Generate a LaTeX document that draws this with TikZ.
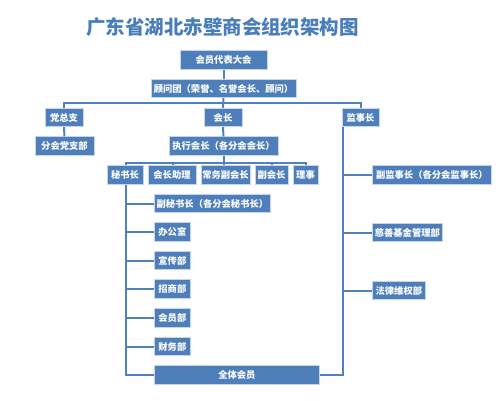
\documentclass[tikz,border=0pt]{standalone}
\usepackage{fontspec}
\newfontfamily\cjk{Noto Sans CJK SC}
\definecolor{boxblue}{HTML}{4F7FBB}
\definecolor{boxedge}{HTML}{C5D6EC}
\definecolor{lineblue}{HTML}{4F81BD}
\definecolor{titleblue}{HTML}{4A7EBB}
\tikzset{
  orgbox/.style={fill=boxblue, draw=boxedge, line width=0.7pt, text=white,
    font=\cjk\bfseries\fontsize{9.3}{10}\selectfont, inner sep=0pt,
    minimum height=18.5pt},
  link/.style={draw=lineblue, line width=2pt}
}
\begin{document}
\begin{tikzpicture}[x=1pt,y=-1pt]
\useasboundingbox (0,0) rectangle (501,400);
\node[font=\cjk\bfseries\fontsize{19.5}{22}\selectfont, text=titleblue] (title) at (222.5,27) {广东省湖北赤壁商会组织架构图};

\node[orgbox, minimum width=87pt] (dbdh) at (223.5,60) {会员代表大会};
\node[orgbox, minimum width=145pt] (gwt) at (223.5,88.5) {顾问团（荣誉、名誉会长、顾问）};
\node[orgbox, minimum width=38pt] (dzz) at (64,117.5) {党总支};
\node[orgbox, minimum width=38pt] (hz) at (223,117.5) {会长};
\node[orgbox, minimum width=37pt] (jsz) at (360.5,117.5) {监事长};
\node[orgbox, minimum width=59pt] (fdzb) at (64.5,146) {分会党支部};
\node[orgbox, minimum width=109pt] (zxhz) at (223.5,146) {执行会长（各分会会长）};

\node[orgbox, minimum width=36pt] (msz) at (125,175) {秘书长};
\node[orgbox, minimum width=48pt] (hzzl) at (172,175) {会长助理};
\node[orgbox, minimum width=49pt] (cwfhz) at (225.5,175) {常务副会长};
\node[orgbox, minimum width=33pt] (fhz) at (271.5,175) {副会长};
\node[orgbox, minimum width=25pt] (ls) at (305.5,175) {理事};

\node[orgbox, minimum width=116pt, anchor=west] (fmsz) at (154,203.5) {副秘书长（各分会秘书长）};
\node[orgbox, minimum width=36pt, anchor=west] (bgs) at (154,232) {办公室};
\node[orgbox, minimum width=36pt, anchor=west] (xcb) at (154,260.5) {宣传部};
\node[orgbox, minimum width=36pt, anchor=west] (zsb) at (154,289) {招商部};
\node[orgbox, minimum width=36pt, anchor=west] (hyb) at (154,318) {会员部};
\node[orgbox, minimum width=36pt, anchor=west] (cwb) at (154,346.5) {财务部};
\node[orgbox, minimum width=165pt, anchor=west] (qthy) at (154,375) {全体会员};

\node[orgbox, minimum width=119pt, anchor=west] (fjsz) at (372,175) {副监事长（各分会监事长）};
\node[orgbox, minimum width=70pt, anchor=west] (csjj) at (372,232.5) {慈善基金管理部};
\node[orgbox, minimum width=53pt, anchor=west] (flwq) at (372,290.5) {法律维权部};

% connectors
\draw[link] (dbdh.south) -- (gwt.north);
\draw[link] (gwt.south) -- (hz.north);
\draw[link] (dzz.north) -- ++(0,-5) -| (jsz.north);
\draw[link] (dzz.south) -- (fdzb.north);
\draw[link] (hz.south) -- (zxhz.north);

\draw[link] (zxhz.south) -- ++(0,7) coordinate (j2);
\draw[link] ([xshift=1pt]msz.north) |- (j2) -| (ls.north);
\draw[link] ([xshift=1pt]hzzl.north) -- ([xshift=1pt]hzzl.north |- j2);
\draw[link] ([xshift=-1.5pt]cwfhz.north) -- ([xshift=-1.5pt]cwfhz.north |- j2);
\draw[link] ([xshift=0.5pt]fhz.north) -- ([xshift=0.5pt]fhz.north |- j2);

\coordinate (mt) at ([xshift=1pt]msz.south);
\draw[link] (mt) |- (qthy.west);
\foreach \n in {fmsz,bgs,xcb,zsb,hyb,cwb}
  \draw[link] (\n.west) -- (\n.west -| mt);

\coordinate (jt) at ([xshift=1.5pt]jsz.south west);
\draw[link] (jt) |- (qthy.east);
\foreach \n in {fjsz,csjj,flwq}
  \draw[link] (\n.west) -- (\n.west -| jt);
\end{tikzpicture}
\end{document}
